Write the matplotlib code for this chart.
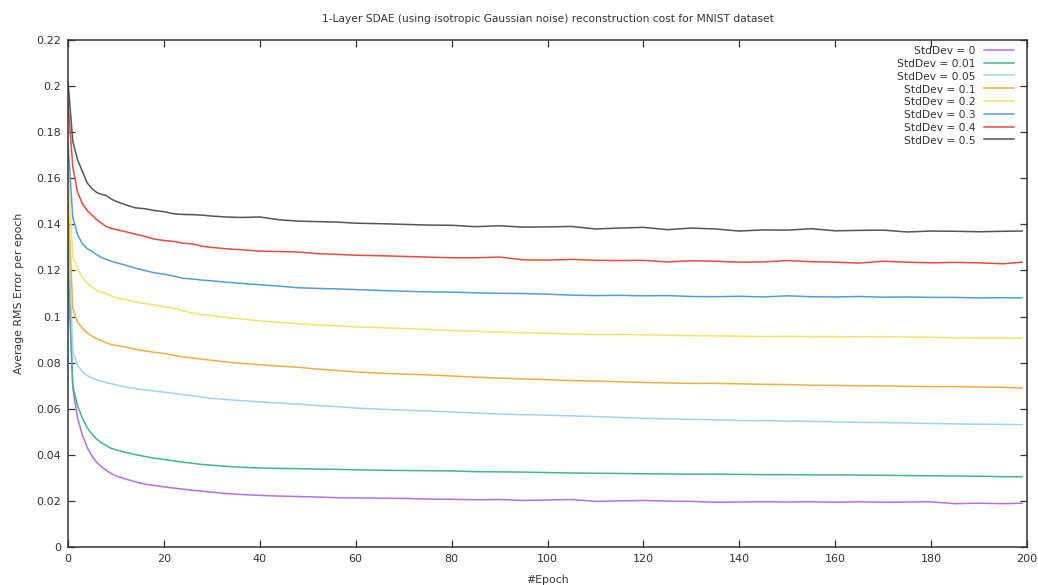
import matplotlib
matplotlib.use("Agg")
import matplotlib.pyplot as plt
from matplotlib.ticker import FuncFormatter

epochs = [0, 1, 2, 3, 4, 5, 6, 7, 8, 9, 10, 12, 14, 16, 18, 20, 22, 24, 26, 28, 30, 33, 36,
          40, 44, 48, 52, 56, 60, 65, 70, 75, 80, 85, 90, 95, 100, 105, 110, 115, 120, 125,
          130, 135, 140, 145, 150, 155, 160, 165, 170, 175, 180, 185, 190, 195, 199]

std_0 = [0.120, 0.069, 0.056, 0.0485, 0.0432, 0.0395, 0.0367, 0.0348, 0.0332, 0.0319, 0.0309,
         0.0295, 0.0283, 0.0273, 0.0267, 0.0261, 0.0256, 0.0251, 0.0246, 0.0242, 0.0238, 0.0232,
         0.0228, 0.0224, 0.0221, 0.0219, 0.0217, 0.0214, 0.0213, 0.0212, 0.0211, 0.0208, 0.0207,
         0.0205, 0.0206, 0.0202, 0.0204, 0.0206, 0.0198, 0.0200, 0.0202, 0.0199, 0.0198, 0.0194,
         0.0195, 0.0196, 0.0195, 0.0196, 0.0194, 0.0196, 0.0194, 0.0195, 0.0196, 0.0188, 0.0190,
         0.0188, 0.0190]
std_001 = [0.130, 0.070, 0.0612, 0.0560, 0.0518, 0.0490, 0.0468, 0.0452, 0.0440, 0.0428, 0.0422,
           0.0411, 0.0401, 0.0393, 0.0385, 0.0380, 0.0374, 0.0368, 0.0363, 0.0358, 0.0355, 0.0350,
           0.0346, 0.0343, 0.0341, 0.0340, 0.0338, 0.0337, 0.0335, 0.0333, 0.0332, 0.0331, 0.0330,
           0.0327, 0.0326, 0.0325, 0.0323, 0.0321, 0.0320, 0.0319, 0.0318, 0.0317, 0.0316, 0.0316,
           0.0315, 0.0314, 0.0314, 0.0313, 0.0313, 0.0312, 0.0311, 0.0310, 0.0309, 0.0308, 0.0307,
           0.0305, 0.0305]
std_005 = [0.140, 0.085, 0.0788, 0.0762, 0.0744, 0.0733, 0.0726, 0.0719, 0.0713, 0.0709, 0.0704,
           0.0694, 0.0688, 0.0682, 0.0677, 0.0672, 0.0667, 0.0661, 0.0656, 0.0650, 0.0645, 0.0640,
           0.0635, 0.0630, 0.0625, 0.0620, 0.0614, 0.0609, 0.0603, 0.0598, 0.0594, 0.0590, 0.0586,
           0.0581, 0.0577, 0.0574, 0.0572, 0.0569, 0.0566, 0.0562, 0.0559, 0.0556, 0.0554, 0.0552,
           0.0549, 0.0548, 0.0547, 0.0545, 0.0543, 0.0541, 0.0540, 0.0538, 0.0536, 0.0534, 0.0533,
           0.0532, 0.0531]
std_01 = [0.150, 0.1035, 0.0975, 0.0950, 0.0930, 0.0915, 0.0903, 0.0895, 0.0886, 0.0878, 0.0875,
          0.0868, 0.0858, 0.0851, 0.0845, 0.0840, 0.0832, 0.0825, 0.0820, 0.0815, 0.0810, 0.0803,
          0.0797, 0.0791, 0.0785, 0.0780, 0.0772, 0.0766, 0.0760, 0.0754, 0.0750, 0.0747, 0.0742,
          0.0737, 0.0733, 0.0729, 0.0726, 0.0722, 0.0720, 0.0717, 0.0714, 0.0712, 0.0710, 0.0710,
          0.0708, 0.0706, 0.0705, 0.0702, 0.0701, 0.0700, 0.0699, 0.0697, 0.0696, 0.0696, 0.0694,
          0.0693, 0.0690]
std_02 = [0.165, 0.126, 0.1205, 0.1170, 0.1145, 0.1128, 0.1113, 0.1105, 0.1099, 0.1090, 0.1082,
          0.1073, 0.1064, 0.1057, 0.1050, 0.1042, 0.1037, 0.1025, 0.1015, 0.1008, 0.1004, 0.0996,
          0.0990, 0.0981, 0.0975, 0.0969, 0.0963, 0.0960, 0.0955, 0.0952, 0.0948, 0.0944, 0.0940,
          0.0936, 0.0932, 0.0930, 0.0927, 0.0924, 0.0922, 0.0922, 0.0921, 0.0919, 0.0917, 0.0916,
          0.0915, 0.0913, 0.0914, 0.0913, 0.0913, 0.0912, 0.0913, 0.0911, 0.0910, 0.0908, 0.0907,
          0.0907, 0.0906]
std_03 = [0.175, 0.143, 0.1355, 0.1315, 0.1295, 0.1283, 0.1268, 0.1256, 0.1248, 0.1240, 0.1234,
          0.1223, 0.1210, 0.1200, 0.1190, 0.1184, 0.1176, 0.1166, 0.1163, 0.1158, 0.1155, 0.1149,
          0.1144, 0.1138, 0.1132, 0.1125, 0.1122, 0.1120, 0.1117, 0.1113, 0.1110, 0.1107, 0.1106,
          0.1103, 0.1101, 0.1100, 0.1097, 0.1093, 0.1091, 0.1092, 0.1090, 0.1091, 0.1087, 0.1086,
          0.1088, 0.1085, 0.1090, 0.1086, 0.1085, 0.1087, 0.1084, 0.1085, 0.1083, 0.1083, 0.1081,
          0.1082, 0.1081]
std_04 = [0.193, 0.165, 0.154, 0.149, 0.146, 0.1440, 0.1420, 0.1405, 0.1390, 0.1383, 0.1378,
          0.1368, 0.1358, 0.1348, 0.1336, 0.1330, 0.1326, 0.1318, 0.1315, 0.1305, 0.1300, 0.1294,
          0.1290, 0.1284, 0.1282, 0.1280, 0.1273, 0.1270, 0.1266, 0.1264, 0.1261, 0.1258, 0.1255,
          0.1255, 0.1258, 0.1246, 0.1245, 0.1248, 0.1244, 0.1243, 0.1244, 0.1237, 0.1242, 0.1240,
          0.1236, 0.1237, 0.1243, 0.1238, 0.1236, 0.1232, 0.1240, 0.1236, 0.1233, 0.1235, 0.1233,
          0.1229, 0.1236]
std_05 = [0.202, 0.176, 0.168, 0.163, 0.158, 0.1555, 0.1538, 0.1530, 0.1525, 0.1510, 0.1500,
          0.1485, 0.1472, 0.1468, 0.1460, 0.1455, 0.1446, 0.1443, 0.1442, 0.1440, 0.1436, 0.1432,
          0.1430, 0.1432, 0.1420, 0.1414, 0.1412, 0.1410, 0.1405, 0.1403, 0.1400, 0.1397, 0.1396,
          0.1390, 0.1394, 0.1388, 0.1389, 0.1391, 0.1380, 0.1384, 0.1387, 0.1377, 0.1384, 0.1380,
          0.1371, 0.1376, 0.1375, 0.1381, 0.1372, 0.1374, 0.1375, 0.1367, 0.1371, 0.1370, 0.1368,
          0.1370, 0.1371]

labels = ["StdDev = 0", "StdDev = 0.01", "StdDev = 0.05", "StdDev = 0.1",
          "StdDev = 0.2", "StdDev = 0.3", "StdDev = 0.4", "StdDev = 0.5"]
series = [std_0, std_001, std_005, std_01, std_02, std_03, std_04, std_05]
colors = ["#b86ee8", "#3fb88e", "#9dd3f3", "#eeb040", "#f3e468", "#4f9fd6", "#ee4a3c", "#555555"]

xticks = list(range(0, 201, 20))
yticks = [0, 0.02, 0.04, 0.06, 0.08, 0.1, 0.12, 0.14, 0.16, 0.18, 0.2, 0.22]

W, H = 1038, 585
fig = plt.figure(figsize=(W / 100, H / 100), dpi=100)
ax = fig.add_axes([68 / W, 1 - 547 / H, (1027 - 68) / W, (547 - 40) / H])

for vals, lab, col in zip(series, labels, colors):
    ax.plot(epochs, vals, color=col, lw=1.1, label=lab, solid_joinstyle="round")

ax.set_xlim(0, 200)
ax.set_ylim(0, 0.22)
ax.set_xticks(xticks)
ax.set_yticks(yticks)
ax.yaxis.set_major_formatter(FuncFormatter(lambda v, p: "%g" % round(v, 4)))
ax.tick_params(direction="in", length=5, width=0.9, colors="#333333", labelsize=8,
               top=True, right=True, labeltop=False, labelright=False, pad=5)
for s in ax.spines.values():
    s.set_color("#333333")
    s.set_linewidth(1.1)

ax.set_title("1-Layer SDAE (using isotropic Gaussian noise) reconstruction cost for MNIST dataset",
             fontsize=7.7, color="#333333", pad=13)
ax.set_xlabel("#Epoch", fontsize=7.8, color="#333333", labelpad=8)
ax.set_ylabel("Average RMS Error per epoch", fontsize=7.8, color="#333333", labelpad=9)

leg = ax.legend(loc="upper right", bbox_to_anchor=(0.9885, 0.992), frameon=False,
                markerfirst=False, fontsize=7.7, handlelength=2.8, handletextpad=0.8,
                labelspacing=0.26, borderpad=0.2, borderaxespad=0.0)
for t in leg.get_texts():
    t.set_color("#333333")
try:
    col_box = leg._legend_box._children[-1]._children[0]
    for c in col_box._children:
        c.align = "right"
    col_box.align = "right"
except Exception:
    pass

fig.savefig("out.png", dpi=100, facecolor="white")
